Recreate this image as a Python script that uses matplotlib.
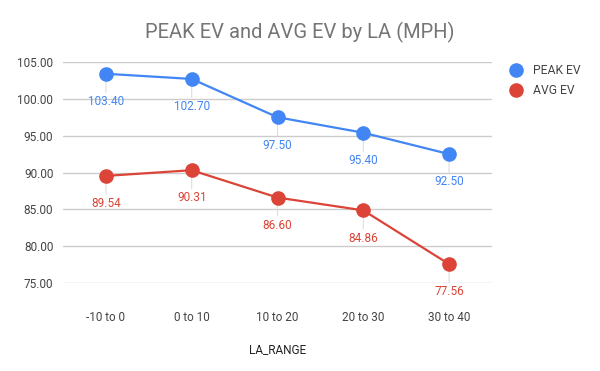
import matplotlib
matplotlib.use("Agg")
import matplotlib.pyplot as plt

categories = ["-10 to 0", "0 to 10", "10 to 20", "20 to 30", "30 to 40"]
peak_ev = [103.40, 102.70, 97.50, 95.40, 92.50]
avg_ev = [89.54, 90.31, 86.60, 84.86, 77.56]
yticks = [75, 80, 85, 90, 95, 100, 105]

plt.rcParams['font.family'] = ['Roboto', 'DejaVu Sans']

fig = plt.figure(figsize=(6, 3.71), dpi=100)
ax = fig.add_axes([63/600, 1-283/371, (492-63)/600, (283-62)/371])

blue = "#4285F4"
red = "#DB4437"
x = list(range(len(categories)))

ax.plot(x, peak_ev, color=blue, lw=1.6, marker='o', ms=9.5, zorder=3, label="PEAK EV")
ax.plot(x, avg_ev, color=red, lw=1.6, marker='o', ms=9.5, zorder=3, label="AVG EV")

for series, col in ((peak_ev, blue), (avg_ev, red)):
    for xi, v in zip(x, series):
        ax.annotate(f"{v:.2f}", (xi, v), xytext=(0, -20), textcoords='offset points',
                    ha='center', va='center', fontsize=8.5, color=col,
                    arrowprops=dict(arrowstyle='-', color='#dddddd', lw=0.8,
                                    shrinkA=0, shrinkB=1), zorder=2)

ax.set_xlim(-0.5, len(categories) - 0.5)
ax.set_ylim(75, 105)
ax.set_yticks(yticks)
ax.set_yticklabels([f"{t:.2f}" for t in yticks])
ax.set_xticks(x)
ax.set_xticklabels(categories)
ax.grid(axis='y', color='#cccccc', lw=1)
ax.set_axisbelow(True)
for s in ax.spines.values():
    s.set_visible(False)
ax.tick_params(length=0, labelsize=8.5, colors='#444444')
ax.tick_params(axis='x', pad=20)
ax.tick_params(axis='y', pad=7)
ax.set_xlabel("LA_RANGE", fontsize=8.5, color='#222222', labelpad=14)

fig.text(300/600, 1-32/371, "PEAK EV and AVG EV by LA (MPH)", ha='center', va='center',
         fontsize=14.5, color='#757575')

leg = ax.legend(loc='upper left', bbox_to_anchor=(1.02, 1.04), frameon=False,
                fontsize=8.7, handlelength=0.8, handletextpad=1.0, labelspacing=0.6,
                numpoints=1)
for h in leg.legend_handles:
    h.set_linestyle('none')
for t in leg.get_texts():
    t.set_color('#444444')

fig.savefig("out.png", dpi=100)
